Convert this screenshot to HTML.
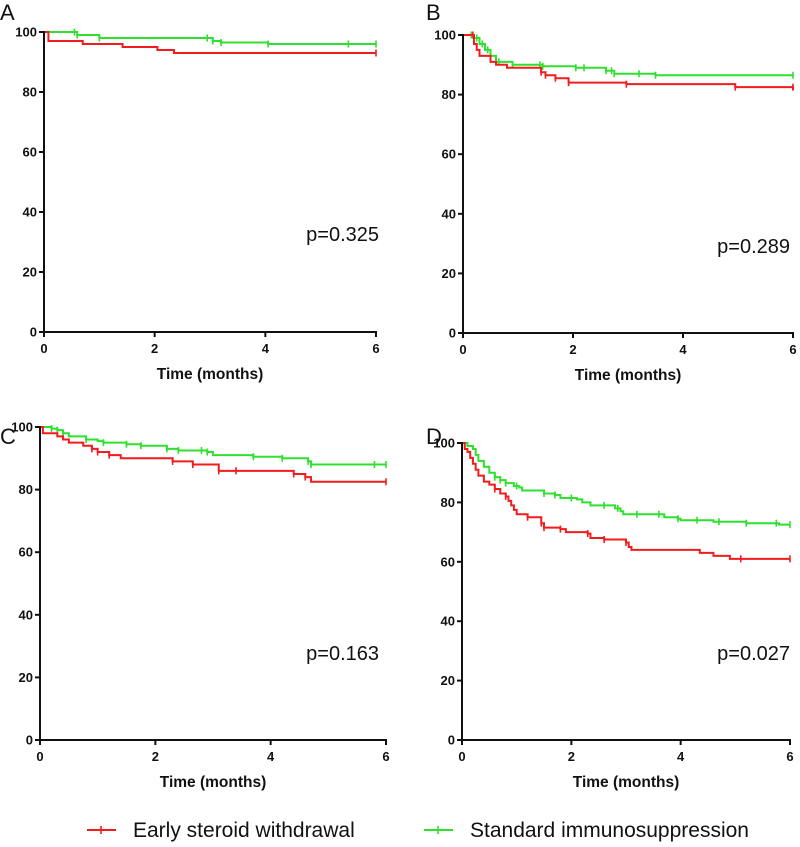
<!DOCTYPE html>
<html><head><meta charset="utf-8">
<style>
html,body{margin:0;padding:0;background:#fff;}
svg{display:block;font-family:"Liberation Sans",sans-serif;}
.tick{font-size:13px;font-weight:bold;fill:#111;}
.xt{font-size:15.5px;font-weight:bold;fill:#111;}
.pv{font-size:20px;fill:#111;}
.let{font-size:22px;fill:#111;}
.leg{font-size:21px;fill:#111;}
</style></head>
<body>
<svg id="fig" width="800" height="847" viewBox="0 0 800 847"></svg>
<script>
// Panel A
const aRedT=[0.08,0.7,1.42,2.05,2.35];
const aRedV=[97,96,95,94,93];
const aRedC=[6];
const aGrnT=[0.6,1.0,3.05,3.2,4.05];
const aGrnV=[99,98,97,96.5,96];
const aGrnC=[0.55,0.6,1.0,2.95,3.05,3.2,4.05,5.5,6];
// Panel B
const bRedT=[0.2,0.25,0.3,0.5,0.6,0.8,1.42,1.5,1.68,1.92,2.97,4.95];
const bRedV=[97,95,93,91,90,89,87.5,86.5,85.5,84,83.5,82.5];
const bRedEndV=[81.5];
const bRedC=[0.18,1.42,1.5,1.68,1.92,2.97,4.95,6];
const bGrnT=[0.2,0.3,0.4,0.5,0.6,0.9,1.45,2.05,2.6,2.75,3.5];
const bGrnV=[99,97,95,93,91,90,89.5,89,88,87,86.5];
const bGrnC=[0.15,0.25,0.35,0.45,0.6,0.65,0.9,1.4,1.45,2.05,2.2,2.6,2.7,2.75,3.2,3.5,6];
// Panel C
const cRedT=[0.05,0.3,0.4,0.5,0.75,0.9,1.0,1.2,1.4,2.3,2.65,3.1,4.4,4.6,4.7];
const cRedV=[98,97,96,95,94,93,92,91,90,89,88,86,85,84,82.5];
const cRedC=[0.9,1.0,1.2,2.3,2.65,3.1,3.4,4.4,4.6,6];
const cGrnT=[0.2,0.3,0.4,0.5,0.8,1.0,1.1,1.5,1.75,2.2,2.4,2.9,3.0,3.7,4.2,4.65,4.7];
const cGrnV=[99.5,99,98,97,96,95.5,95,94.5,94,93,92.5,92,91,90.5,90,89,88];
const cGrnC=[0.2,0.3,0.4,0.8,1.1,1.5,1.75,2.2,2.4,2.8,2.9,3.7,4.2,4.65,4.7,5.8,6];
// Panel D
const dRedT=[0.05,0.1,0.15,0.2,0.25,0.3,0.4,0.5,0.6,0.7,0.8,0.85,0.9,0.95,1.0,1.2,1.45,1.5,1.8,1.9,2.3,2.35,2.6,3.0,3.05,3.1,4.35,4.6,4.9];
const dRedV=[98,97,95,93,91,89,87,86,84.5,83,82,80.5,79,77.5,76,75,73,71.5,71,70,69.5,68,67.5,66.5,65,64,63,62,61];
const dRedC=[0.6,0.8,1.2,1.45,1.5,1.8,2.3,2.6,3.0,5.1,6];
const dGrnT=[0.1,0.2,0.25,0.3,0.4,0.5,0.6,0.7,0.8,0.95,1.05,1.1,1.5,1.7,1.8,2.1,2.2,2.35,2.8,2.9,2.95,3.7,3.95,4.0,4.6,5.2,5.8];
const dGrnV=[99,98,96,94,92,90,88.5,87.5,86.5,85.5,85,84,83,82.5,81.5,81,80,79,78,77,76,75,74.5,74,73.5,73,72.5];
const dGrnC=[0.6,0.7,0.8,1.0,1.5,1.7,2.0,2.6,2.85,3.2,3.6,3.95,4.3,4.7,5.2,5.75,6];

const xTicks=[0,2,4,6];
const yTicks=[0,20,40,60,80,100];

const NS="http://www.w3.org/2000/svg";
const svg=document.getElementById('fig');
function mk(tag,attrs,parent){const e=document.createElementNS(NS,tag);for(const k in attrs)e.setAttribute(k,attrs[k]);(parent||svg).appendChild(e);return e;}

const RED="#f21c1c", GRN="#2fe02f";
function panel(key,letter,g,pv,series,showX){
  const grp=mk('g',{});
  
  
  const xs=t=>g.x0+(g.x6-g.x0)*t/6;
  const ys=v=>g.y0-(g.y0-g.y100)*v/100;
  const lt=mk('text',{x:g.lx,y:g.ly,class:'let'},grp);lt.textContent=letter;
  
  
  series.forEach(s=>{
    let d='M'+xs(0)+' '+ys(100);
    for(let i=0;i<s.t.length;i++){d+=' H'+xs(s.t[i])+' V'+ys(s.v[i]);}
    d+=' H'+xs(6);
    if(s.end){d+=' V'+ys(s.end[0]);}
    const p=mk('path',{d:d,fill:'none',stroke:s.c,'stroke-width':2},grp);
    
    
    s.cens.forEach(t=>{
      let v=100;for(let i=0;i<s.t.length;i++){if(s.t[i]<=t)v=s.v[i];}
      const c=mk('line',{x1:xs(t),x2:xs(t),y1:ys(v)-3.5,y2:ys(v)+3.5,stroke:s.c,'stroke-width':1.6},grp);
      
      
    });
  });
  const ya=mk('line',{x1:g.x0,x2:g.x0,y1:g.y100-1,y2:g.y0,stroke:'#111','stroke-width':2},grp);
  
  
  const xa=mk('line',{x1:g.x0-5,x2:g.x6+1,y1:g.y0,y2:g.y0,stroke:'#111','stroke-width':2},grp);
  
  
  yTicks.forEach(v=>{
    const tk=mk('line',{x1:g.x0-5,x2:g.x0,y1:ys(v),y2:ys(v),stroke:'#111','stroke-width':2},grp);
    
    
    const tl=mk('text',{x:g.x0-7,y:ys(v)+4.5,class:'tick','text-anchor':'end'},grp);tl.textContent=v;
    
    
  });
  xTicks.forEach(t=>{
    const tk=mk('line',{x1:xs(t),x2:xs(t),y1:g.y0,y2:g.y0+5,stroke:'#111','stroke-width':2},grp);
    
    
    const tl=mk('text',{x:xs(t),y:g.y0+21,class:'tick','text-anchor':'middle'},grp);tl.textContent=t;
    
    
  });
  if(showX){
    const xt=mk('text',{x:(g.x0+g.x6)/2,y:g.y0+47,class:'xt','text-anchor':'middle'},grp);xt.textContent='Time (months)';
    
    
  }
  const p=mk('text',{x:g.px,y:g.py,class:'pv','text-anchor':'end'},grp);p.textContent=pv;
  
  
}
panel('a','A',{x0:44,x6:376,y100:32,y0:332,lx:0,ly:20,px:379,py:241},'p=0.325',
 [{t:aGrnT,v:aGrnV,cens:aGrnC,c:GRN,name:'standard-curve-a'},{t:aRedT,v:aRedV,cens:aRedC,c:RED,name:'early-withdrawal-curve-a'}],true);
panel('b','B',{x0:463,x6:793,y100:35,y0:333,lx:426,ly:20,px:790,py:253},'p=0.289',
 [{t:bGrnT,v:bGrnV,cens:bGrnC,c:GRN,name:'standard-curve-b'},{t:bRedT,v:bRedV,end:bRedEndV,cens:bRedC,c:RED,name:'early-withdrawal-curve-b'}],true);
panel('c','C',{x0:40,x6:386,y100:427,y0:740,lx:0,ly:444,px:379,py:660},'p=0.163',
 [{t:cGrnT,v:cGrnV,cens:cGrnC,c:GRN,name:'standard-curve-c'},{t:cRedT,v:cRedV,cens:cRedC,c:RED,name:'early-withdrawal-curve-c'}],true);
panel('d','D',{x0:462,x6:790,y100:443,y0:740,lx:426,ly:444,px:790,py:660},'p=0.027',
 [{t:dGrnT,v:dGrnV,cens:dGrnC,c:GRN,name:'standard-curve-d'},{t:dRedT,v:dRedV,cens:dRedC,c:RED,name:'early-withdrawal-curve-d'}],true);

const lg=mk('g',{});


[[87,133,RED,'Early steroid withdrawal','legend-entry-early'],[424,470,GRN,'Standard immunosuppression','legend-entry-standard']].forEach(e=>{
  const gg=mk('g',{},lg);
  
  
  mk('line',{x1:e[0],x2:e[0]+29,y1:830,y2:830,stroke:e[2],'stroke-width':2},gg);
  mk('line',{x1:e[0]+14,x2:e[0]+14,y1:826,y2:834,stroke:e[2],'stroke-width':1.6},gg);
  const t=mk('text',{x:e[1],y:837,class:'leg'},gg);t.textContent=e[3];
});
</script>
</body></html>
